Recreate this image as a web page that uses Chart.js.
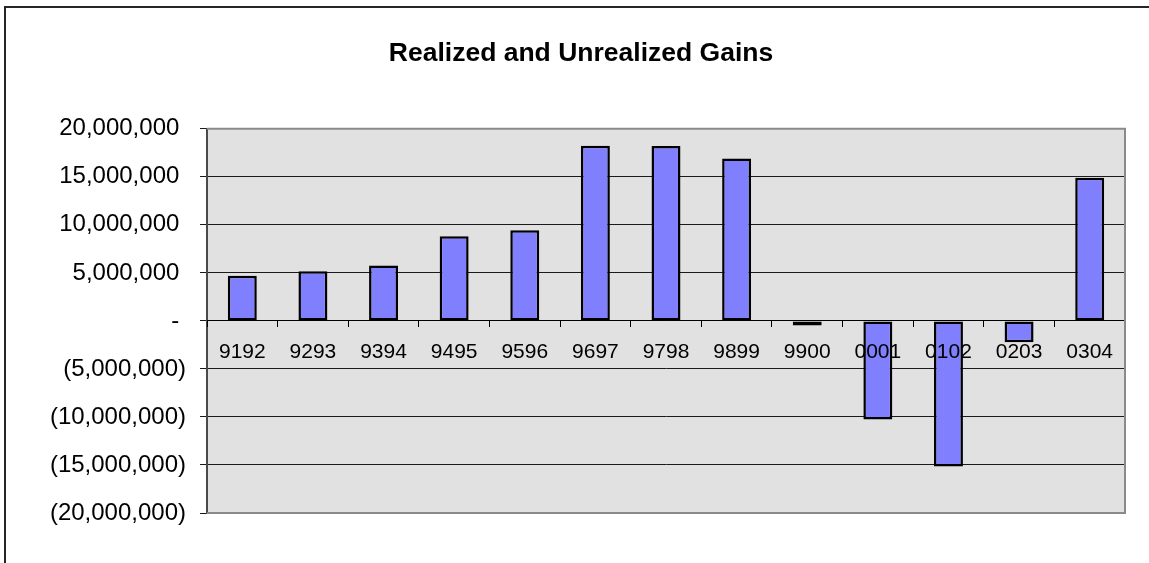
<!DOCTYPE html>
<html>
<head>
<meta charset="utf-8">
<title>Realized and Unrealized Gains</title>
<script src="https://cdn.jsdelivr.net/npm/chart.js@4.4.1/dist/chart.umd.min.js"></script>
<style>
  html, body { margin: 0; padding: 0; background: #ffffff; }
  #wrap { width: 1149px; height: 563px; position: relative; }
</style>
</head>
<body>
<div id="wrap"><canvas id="gains" width="1149" height="563"></canvas></div>
<script>
// Fiscal-year periods and the realized + unrealized gain for each
const categories = ['9192', '9293', '9394', '9495', '9596', '9697', '9798', '9899', '9900', '0001', '0102', '0203', '0304'];
const gains = [4690000, 5180000, 5770000, 8820000, 9450000, 18230000, 18200000, 16900000, -480000, -10270000, -15170000, -2220000, 14900000];

// Value axis range and step
const yMin = -20000000;
const yMax = 20000000;
const yStep = 5000000;

const FONT = "'Liberation Sans', Arial, Helvetica, sans-serif";

// Accounting-style number: 1,234 / (1,234) / -
function groupDigits(n) {
  return String(Math.round(Math.abs(n))).replace(/\B(?=(\d{3})+(?!\d))/g, ',');
}
function accounting(v) {
  if (v === 0) return '- ';
  if (v < 0) return '(' + groupDigits(v) + ')';
  return groupDigits(v) + ' ';
}

// Gray plot background, gray frame and the outer chart border
const plotFrame = {
  id: 'plotFrame',
  beforeDraw(chart) {
    const { ctx, chartArea: a } = chart;
    ctx.save();
    ctx.fillStyle = '#e1e1e1';
    ctx.fillRect(a.left, a.top, a.right - a.left, a.bottom - a.top);
    ctx.restore();
  },
  afterDraw(chart) {
    const { ctx, chartArea: a } = chart;
    ctx.save();
    ctx.strokeStyle = '#8a8a8a';
    ctx.lineWidth = 2;
    ctx.beginPath();
    ctx.moveTo(a.left, a.top);
    ctx.lineTo(a.right, a.top);
    ctx.lineTo(a.right, a.bottom);
    ctx.lineTo(a.left, a.bottom);
    ctx.stroke();
    // outer chart border (top and left edges)
    ctx.strokeStyle = '#262626';
    ctx.lineWidth = 2;
    ctx.beginPath();
    ctx.moveTo(5, chart.height);
    ctx.lineTo(5, 7);
    ctx.lineTo(chart.width, 7);
    ctx.stroke();
    ctx.restore();
  }
};

new Chart(document.getElementById('gains'), {
  type: 'bar',
  data: {
    labels: categories,
    datasets: [{
      label: 'Gains',
      data: gains,
      backgroundColor: '#8080ff',
      borderColor: '#000000',
      borderWidth: 2.5,
      borderSkipped: false,
      barPercentage: 0.41,
      categoryPercentage: 1.0
    }]
  },
  options: {
    responsive: false,
    animation: false,
    events: [],
    layout: { padding: { left: 37, right: 24, top: 0, bottom: 50 } },
    plugins: {
      legend: { display: false },
      tooltip: { enabled: false },
      title: {
        display: true,
        text: 'Realized and Unrealized Gains',
        color: '#000000',
        font: { family: FONT, size: 26.5, weight: 'bold', lineHeight: 1.2 },
        padding: { top: 38, bottom: 59 }
      }
    },
    scales: {
      x: {
        position: { y: 0 },
        grid: {
          display: true,
          drawOnChartArea: false,
          drawTicks: true,
          tickLength: 6,
          color: '#000000',
          lineWidth: 1,
          z: 1
        },
        border: { display: true, color: '#000000', width: 1, z: 1 },
        ticks: {
          color: '#000000',
          font: { family: FONT, size: 21 },
          padding: 13,
          maxRotation: 0,
          autoSkip: false,
          z: 2
        }
      },
      y: {
        min: yMin,
        max: yMax,
        afterFit(scale) { scale.width = 170; },
        grid: {
          color: '#1a1a1a',
          lineWidth: 1,
          tickLength: 7,
          drawTicks: true
        },
        border: { display: true, color: '#4a4a4a', width: 2 },
        ticks: {
          stepSize: yStep,
          color: '#000000',
          font: { family: FONT, size: 24 },
          padding: 14,
          callback: (v) => accounting(v)
        }
      }
    }
  },
  plugins: [plotFrame]
});
</script>
</body>
</html>
